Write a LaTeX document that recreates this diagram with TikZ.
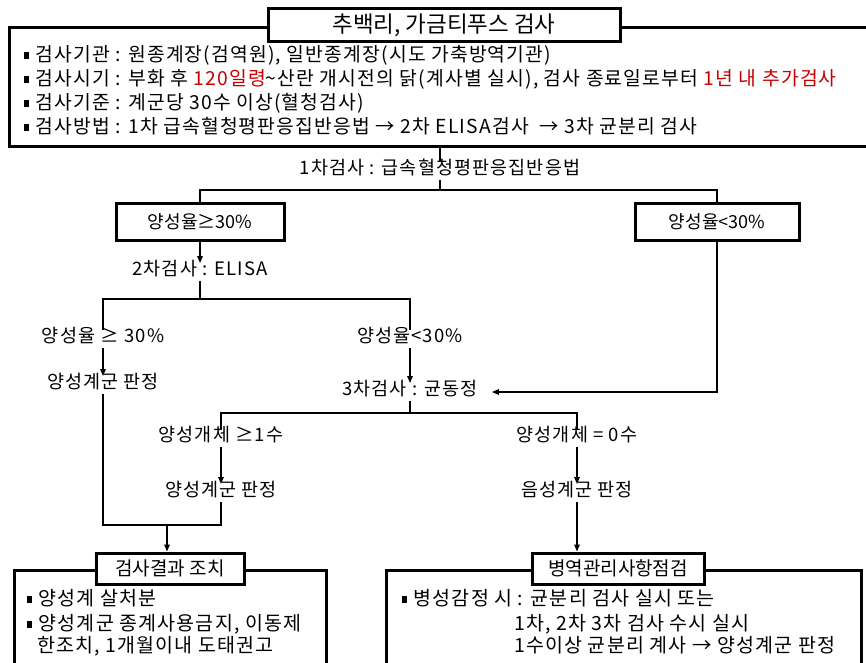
\documentclass[tikz,border=0pt]{standalone}
\usepackage{fontspec}
\setmainfont{Noto Sans CJK KR}
\newfontfamily\spfont[LetterSpace=6]{Noto Sans CJK KR}
\usetikzlibrary{arrows.meta}
\definecolor{myred}{RGB}{200,0,0}
\newcommand\bul{\rule[0.12em]{0.24em}{0.36em}\hspace{0.35em}}
\begin{document}
\begin{tikzpicture}[x=1pt,y=-1pt,
  bigbox/.style={draw, line width=2.6pt, inner sep=0pt},
  titlebox/.style={draw, line width=3pt, fill=white, inner sep=0pt},
  decbox/.style={draw, line width=3pt, fill=white, inner sep=0pt, font=\fontsize{18}{22}\selectfont},
  lbl/.style={font=\spfont\fontsize{18.5}{22}\selectfont, inner xsep=2pt, inner ysep=4pt, text height=0.8em, text depth=0.15em},
  btxt/.style={anchor=west, font=\spfont\fontsize{19.3}{22}\selectfont, inner sep=0pt, text height=0.8em, text depth=0.15em},
  ctxt/.style={anchor=west, font=\spfont\fontsize{19.5}{22}\selectfont, inner sep=0pt, text height=0.8em, text depth=0.15em},
  con/.style={line width=1.4pt},
  arr/.style={con, -{Triangle[length=7pt,width=5.5pt]}}]
\useasboundingbox (0,0) rectangle (866,662);
\clip (0,0) rectangle (866,662);
\fill[white] (0,0) rectangle (866,662);

% top box
\node[bigbox, anchor=north west, minimum width=880, minimum height=119] (O1) at (8,26) {};
\node[titlebox, minimum width=352, minimum height=33, font=\fontsize{22.5}{24}\selectfont] (T1) at (444,25) {추백리, 가금티푸스 검사};
\node[btxt] (t1) at (24,58) {\bul 검사기관 : 원종계장(검역원), 일반종계장(시도 가축방역기관)};
\node[btxt] (t2) at (24,82) {\bul 검사시기 : 부화 후 {\color{myred}120일령}\textasciitilde 산란 개시전의 닭(계사별 실시), 검사 종료일로부터 {\color{myred}1년 내 추가검사}};
\node[btxt] (t3) at (24,106) {\bul 검사기준 : 계군당 30수 이상(혈청검사)};
\node[btxt] (t4) at (24,130) {\bul 검사방법 : 1차 급속혈청평판응집반응법 → 2차 ELISA검사 \ → 3차 균분리 검사};

% first test
\node[lbl] (L1) at (440,171) {1차검사 : 급속혈청평판응집반응법};
\coordinate (h1) at (440,190);
\node[decbox, minimum width=168, minimum height=37] (B1) at (200,221.5) {양성율≥30\%};
\node[decbox, minimum width=164, minimum height=37] (B2) at (717,221.5) {양성율<30\%};
\draw[con] (O1.south -| L1.north) -- (L1.north);
\draw[con] (L1.south) -- (h1);
\draw[con] (B1.north) |- (h1) -| (B2.north);

% second test
\node[lbl] (L2) at (200,272) {2차검사 : ELISA};
\draw[arr] (B1.south) -- (B1.south |- L2.north);
\coordinate (h2) at (200,299);
\node[lbl] (L3) at (103,339) {양성율 ≥ 30\%};
\node[lbl] (L4) at (410,339) {양성율<30\%};
\draw[con] (L2.south) -- (h2);
\draw[con] (L3.north) |- (h2) -| (L4.north);
\node[lbl] (L5) at (103,385) {양성계군 판정};
\node[lbl] (L6) at (410,392) {3차검사 : 균동정};
\draw[arr] (L3.south) -- (L5.north);
\draw[arr] (L4.south) -- (L4.south |- L6.north);
\draw[arr] (B2.south) |- ([xshift=12pt]L6.east);

% third test
\coordinate (h3) at (410,413);
\node[lbl] (L7) at (221,438) {양성개체 ≥1수};
\node[lbl] (L8) at (577,438) {양성개체 = 0수};
\draw[con] (L6.south) -- (h3);
\draw[con] (L7.north) |- (h3) -| (L8.north);
\node[lbl] (L9) at (221,493) {양성계군 판정};
\node[lbl] (L10) at (577,493) {음성계군 판정};
\draw[arr] (L7.south) -- (L9.north);
\draw[arr] (L8.south) -- (L10.north);

% bottom boxes
\node[bigbox, anchor=north west, minimum width=312, minimum height=160] (O3) at (13,569) {};
\node[bigbox, anchor=north west, minimum width=475, minimum height=160] (O4) at (385,569) {};
\node[titlebox, minimum width=148, minimum height=31, font=\fontsize{19}{22}\selectfont] (T3) at (170,568.5) {검사결과 조치};
\node[titlebox, minimum width=172, minimum height=31, font=\fontsize{19}{22}\selectfont] (T4) at (618,568.5) {병역관리사항점검};
\coordinate (m) at (167,525);
\draw[con] (L5.south) |- (m);
\draw[con] (L9.south) |- (m);
\draw[arr] (m) -- (m |- T3.north);
\draw[arr] (L10.south) -- (L10.south |- T4.north);

\node[ctxt] (b1) at (27,602) {\bul 양성계 살처분};
\node[ctxt] (b2) at (27,627) {\bul 양성계군 종계사용금지, 이동제};
\node[ctxt] (b3) at (37,649) {한조치, 1개월이내 도태권고};
\node[ctxt] (c1) at (402,602) {\bul 병성감정 시 : 균분리 검사 실시 또는};
\node[ctxt] (c2) at (514,627) {1차, 2차 3차 검사 수시 실시};
\node[ctxt] (c3) at (514,649) {1수이상 균분리 계사 → 양성계군 판정};
\end{tikzpicture}
\end{document}
